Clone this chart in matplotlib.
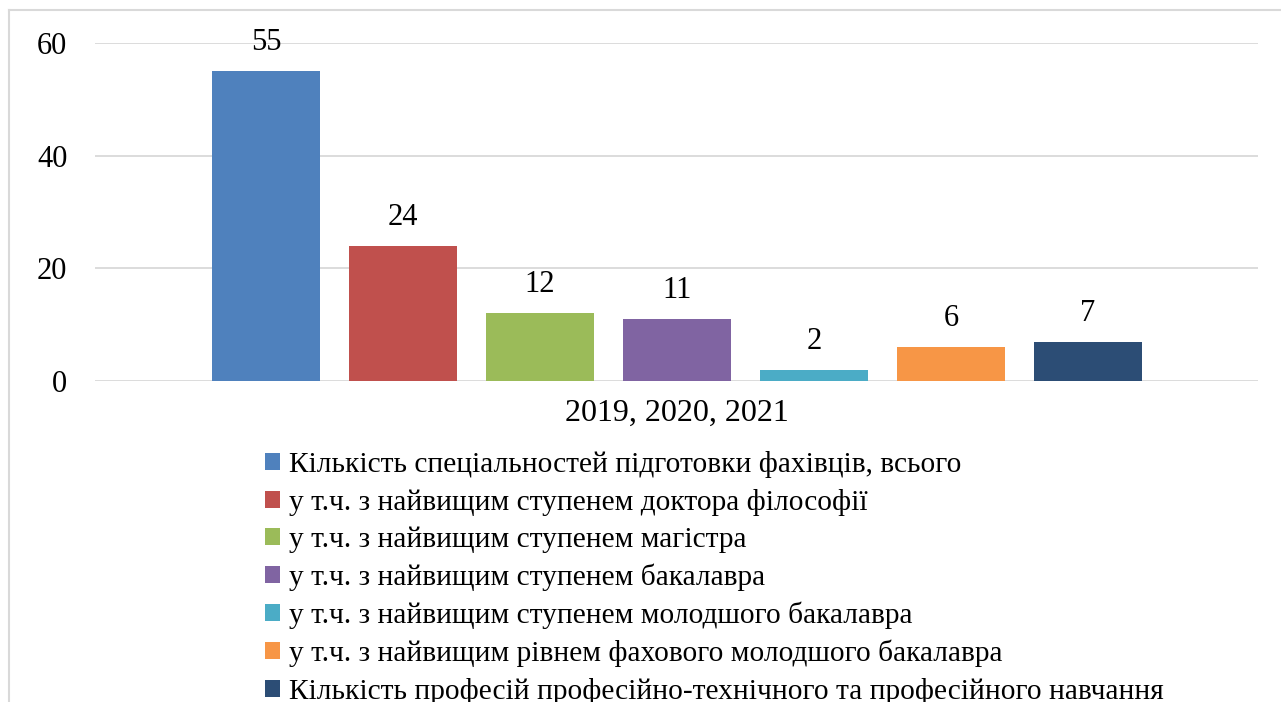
import matplotlib.pyplot as plt
from matplotlib.lines import Line2D

plt.rcParams['font.family'] = ['Liberation Serif', 'DejaVu Serif']

# Data
labels = [
    "Кількість спеціальностей підготовки фахівців, всього",
    "у т.ч. з найвищим ступенем доктора філософії",
    "у т.ч. з найвищим ступенем магістра",
    "у т.ч. з найвищим ступенем бакалавра",
    "у т.ч. з найвищим ступенем молодшого бакалавра",
    "у т.ч. з найвищим рівнем фахового молодшого бакалавра",
    "Кількість професій професійно-технічного та професійного навчання",
]
values = [55, 24, 12, 11, 2, 6, 7]
colors = ["#4F81BD", "#C0504D", "#9BBB59", "#8064A2", "#4BACC6", "#F79646", "#2C4D75"]
category = "2019, 2020, 2021"
yticks = [0, 20, 40, 60]

fig = plt.figure(figsize=(12.81, 7.02), dpi=100)
ax = fig.add_axes([0.0742, 0.4573, 0.9078, 0.4815])

bars = []
for i, (v, c, lab) in enumerate(zip(values, colors, labels)):
    b = ax.bar(i, v, width=0.788, color=c, label=lab, zorder=3)
    bars.append(b)
    ax.annotate(str(v), (i, v), xytext=(0, 10), textcoords="offset points",
                ha="center", va="bottom", fontsize=22)

ax.set_xlim(-1.248, 7.24)
ax.set_ylim(0, 60)
ax.set_yticks(yticks)
ax.tick_params(axis='y', length=0, pad=20, labelsize=22)
ax.set_xticks([3])
ax.set_xticklabels([category], fontsize=23)
ax.tick_params(axis='x', length=0, pad=13)
ax.grid(axis='y', color="#D9D9D9", linewidth=1.3, zorder=0)
for s in ax.spines.values():
    s.set_visible(False)

# Legend below the chart (last row runs off the bottom, as in the original)
fig.legend(handles=[b[0] for b in bars], labels=labels, loc="upper left",
           bbox_to_anchor=(0.198, 0.374), frameon=False, fontsize=21.2,
           handlelength=0.5, handleheight=0.5, handletextpad=0.3,
           labelspacing=0.36, borderaxespad=0)

# Outer chart border (partially visible)
fig.add_artist(Line2D([9 / 1281, 1.0], [1 - 10 / 702, 1 - 10 / 702],
                      color="#D9D9D9", linewidth=1.5))
fig.add_artist(Line2D([9 / 1281, 9 / 1281], [0, 1 - 10 / 702],
                      color="#D9D9D9", linewidth=1.5))

plt.savefig("out.png", dpi=100)
